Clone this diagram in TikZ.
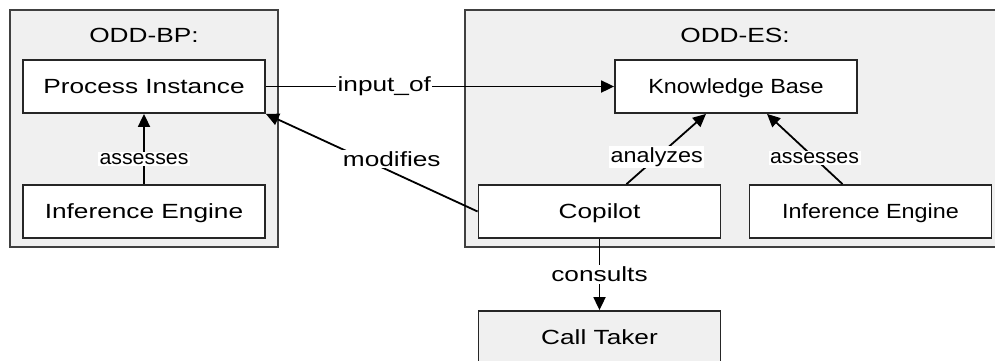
\documentclass[tikz,border=0pt]{standalone}
\usepackage{fontspec}
\setmainfont{Liberation Sans}
\newfontfamily\widesans[FakeStretch=1.28]{Liberation Sans}
\newfontfamily\midsans[FakeStretch=1.14]{Liberation Sans}
\newfontfamily\narrowsans[FakeStretch=1.04]{Liberation Sans}
\usetikzlibrary{arrows.meta}

\begin{document}
\begin{tikzpicture}[x=1pt, y=-1pt,
  group/.style={draw=black!75, fill=black!6, line width=1.8pt, minimum height=237pt, inner sep=0pt},
  box/.style={draw=black!85, fill=white, line width=1.8pt, minimum width=242pt, minimum height=53pt, inner sep=0pt, text depth=0pt},
  rel/.style={-{Triangle[length=13pt,width=12pt]}, line width=1.8pt},
  lbl/.style={fill=white, inner sep=1.5pt},
  wide/.style={font=\widesans\fontsize{20.5}{24}\selectfont},
  mid/.style={font=\midsans\fontsize{20.5}{24}\selectfont},
  narrow/.style={font=\narrowsans\fontsize{20.5}{24}\selectfont}]
\useasboundingbox (0,0) rectangle (995,360);
% containers
\node[group, minimum width=268pt] (bp) at (144,128.5){};
\node[group, minimum width=540pt] (es) at (735,128.5){};
\node[wide, text depth=0pt] (bptitle) at (144,35){ODD-BP:};
\node[wide, text depth=0pt] (estitle) at (735,35){ODD-ES:};
% boxes
\node[box, wide] (pi) at (144,86.5){Process Instance};
\node[box, wide] (iebp) at (144,211.5){Inference Engine};
\node[box, mid] (kb) at (736,86.5){Knowledge Base};
\node[box, wide] (cop) at (599.5,211.5){Copilot};
\node[box, mid] (iees) at (870.5,211.5){Inference Engine};
\node[box, wide, fill=black!6] (ct) at (599.5,337.5){Call Taker};
% relations
\draw[rel] (pi) -- node[lbl, wide, pos=0.34]{input\_of} (kb);
\draw[rel] (cop.west) -- node[lbl, wide, pos=0.5, xshift=20pt, yshift=4pt]{modifies} (pi.south east);
\draw[rel] (iebp) -- node[lbl, narrow, pos=0.36]{assesses} (pi);
\draw[rel] ([xshift=27pt]cop.north) -- node[lbl, mid, pos=0.38]{analyzes} ([xshift=-30pt]kb.south);
\draw[rel] ([xshift=-28pt]iees.north) -- node[lbl, narrow, pos=0.37]{assesses} ([xshift=31pt]kb.south);
\draw[rel] (cop) -- node[lbl, wide]{consults} (ct);
\end{tikzpicture}
\end{document}
